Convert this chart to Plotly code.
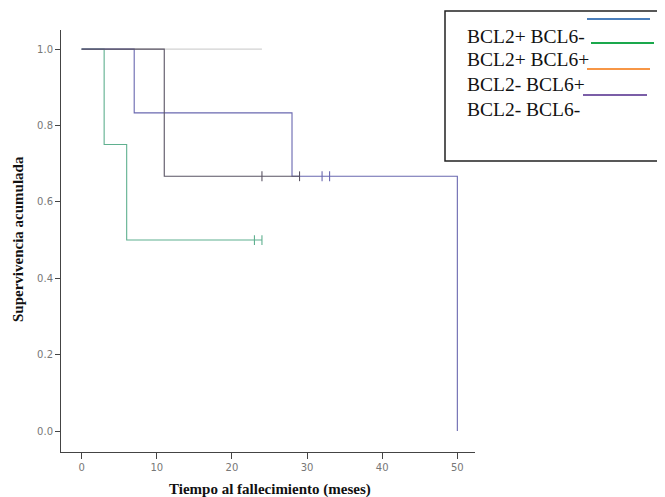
import plotly.graph_objects as go

# ---- data (Kaplan-Meier step curves) ----
grey_t = [0, 24]
grey_s = [1.0, 1.0]

green_t = [0, 3, 6, 24]
green_s = [1.0, 0.75, 0.5, 0.5]
green_cens_t = [23, 24]
green_cens_s = [0.5, 0.5]

dark_t = [0, 11, 29]
dark_s = [1.0, 0.667, 0.667]
dark_cens_t = [24, 29]
dark_cens_s = [0.667, 0.667]

purple_t = [0, 7, 28, 50, 50]
purple_s = [1.0, 0.833, 0.667, 0.667, 0.0]
purple_cens_t = [32, 33]
purple_cens_s = [0.667, 0.667]

legend_labels = ["BCL2+ BCL6-", "BCL2+ BCL6+", "BCL2- BCL6+", "BCL2- BCL6-"]
legend_colors = ["#4a7ebb", "#1aa84c", "#f79646", "#7b5ea7"]

x_ticks = [0, 10, 20, 30, 40, 50]
y_ticks = [0.0, 0.2, 0.4, 0.6, 0.8, 1.0]

# ---- layout geometry (page body has an 8px margin) ----
OFF = 8
W, H = 665 - OFF, 497 - OFF
L, T = 61 - OFF, 30 - OFF
R = W - (475 - OFF)
B = H - (452 - OFF)
PW, PH = W - L - R, H - T - B


def px(x):
    return (x - OFF - L) / PW


def py(y):
    return 1 - (y - OFF - T) / PH


fig = go.Figure()

def step(t, s, color, width=1.1):
    fig.add_trace(go.Scatter(x=t, y=s, mode="lines", line=dict(color=color, width=width, shape="hv"),
                             showlegend=False, hoverinfo="skip"))

def cens(t, s, color):
    fig.add_trace(go.Scatter(x=t, y=s, mode="markers",
                             marker=dict(symbol="line-ns", size=7, line=dict(color=color, width=1.1)),
                             showlegend=False, hoverinfo="skip"))

step(grey_t, grey_s, "#d2d2d2")
step(green_t, green_s, "#5fb08f")
cens(green_cens_t, green_cens_s, "#5fb08f")
step(purple_t, purple_s, "#6a68b0")
cens(purple_cens_t, purple_cens_s, "#6a68b0")
step(dark_t, dark_s, "#5a5464")
cens(dark_cens_t, dark_cens_s, "#5a5464")

shapes = []
annotations = []

# legend box (custom)
shapes.append(dict(type="rect", xref="paper", yref="paper", x0=px(445), x1=px(672), y0=py(161), y1=py(11),
                   line=dict(color="#222222", width=1.5), fillcolor="white", layer="above"))
row_y = [36, 60, 85, 110]
line_pos = [(587, 650, 19), (591, 654, 43), (587, 650, 69), (583, 647, 95)]
for lab, yy in zip(legend_labels, row_y):
    annotations.append(dict(text=lab, xref="paper", yref="paper", x=px(465), y=py(yy), xanchor="left",
                            yanchor="middle", showarrow=False,
                            font=dict(family="Liberation Serif", size=19.5, color="#111111")))
for (x0, x1, yy), c in zip(line_pos, legend_colors):
    shapes.append(dict(type="line", xref="paper", yref="paper", x0=px(x0), x1=px(x1), y0=py(yy), y1=py(yy),
                       line=dict(color=c, width=2)))

annotations.append(dict(text="<b>Tiempo al fallecimiento (meses)</b>", xref="paper", yref="paper",
                        x=px(270), y=py(489), xanchor="center", yanchor="middle", showarrow=False,
                        font=dict(family="Liberation Serif", size=15, color="#111111")))
annotations.append(dict(text="<b>Supervivencia acumulada</b>", xref="paper", yref="paper",
                        x=px(18), y=py(239), xanchor="center", yanchor="middle", showarrow=False, textangle=-90,
                        font=dict(family="Liberation Serif", size=15, color="#111111")))

fig.update_layout(
    width=W, height=H,
    margin=dict(l=L, r=R, t=T, b=B),
    paper_bgcolor="white", plot_bgcolor="white",
    shapes=shapes, annotations=annotations,
    xaxis=dict(range=[-2.74, 52.35], tickvals=x_ticks, ticks="outside", ticklen=6, tickcolor="#444",
               showline=True, linecolor="#444", linewidth=1, showgrid=False, zeroline=False,
               tickfont=dict(family="DejaVu Sans", size=10, color="#777")),
    yaxis=dict(range=[-0.055, 1.05], tickvals=y_ticks, tickformat=".1f", ticks="outside", ticklen=5,
               tickcolor="#444", showline=True, linecolor="#444", linewidth=1, showgrid=False, zeroline=False,
               tickfont=dict(family="DejaVu Sans", size=10, color="#777")),
)

fig.write_html("out.html")
